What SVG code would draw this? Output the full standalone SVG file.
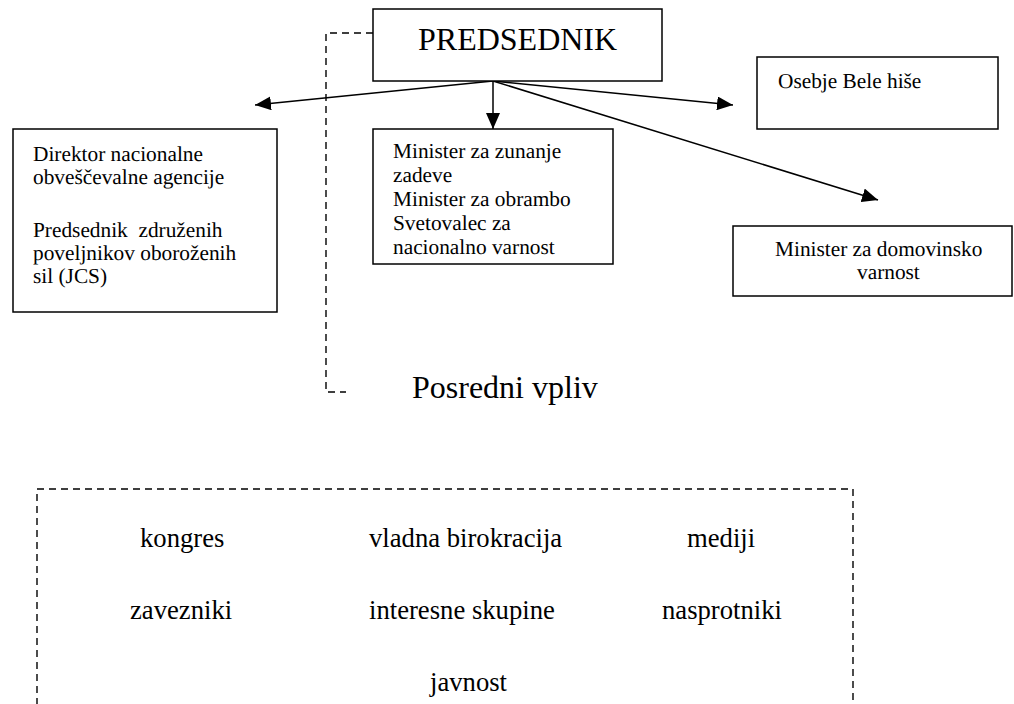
<svg xmlns="http://www.w3.org/2000/svg" width="1014" height="704" viewBox="0 0 1014 704">
<style>
  text { font-family: "Liberation Serif", "Times New Roman", serif; fill: #000; }
  .t21 { font-size: 21.33px; text-rendering: geometricPrecision; }
  .t26 { font-size: 26.67px; }
  .t32 { font-size: 32px; }
  .box { fill: #fff; stroke: #000; stroke-width: 1.5; }
  .arrow { fill: none; stroke: #000; stroke-width: 1.5; marker-end: url(#ah); }
  .dash { fill: none; stroke: #000; stroke-width: 1.4; stroke-dasharray: 7 5; }
</style>
<defs>
  <marker id="ah" markerUnits="userSpaceOnUse" markerWidth="16" markerHeight="14" refX="16" refY="7" orient="auto">
    <path d="M0,0 L16,7 L0,14 z" fill="#000"/>
  </marker>
</defs>
<rect width="1014" height="704" fill="#fff"/>
<g id="connectors">
  <polyline class="dash" points="373,33 326,33 326,392 346,392"/>
  <line class="arrow" x1="493" y1="81" x2="255" y2="105"/>
  <line class="arrow" x1="493" y1="81" x2="493" y2="129"/>
  <line class="arrow" x1="493" y1="81" x2="733" y2="105"/>
  <line class="arrow" x1="493" y1="81" x2="878" y2="200"/>
</g>
<g id="predsednik">
  <rect class="box" x="373" y="9" width="289" height="72"/>
  <text class="t32" x="418" y="50">PREDSEDNIK</text>
</g>
<g id="direktor">
  <rect class="box" x="13" y="129" width="264" height="183"/>
  <text class="t21" x="33" y="161">Direktor nacionalne</text>
  <text class="t21" x="33" y="184">obveščevalne agencije</text>
  <text class="t21" x="33" y="237" xml:space="preserve">Predsednik  združenih</text>
  <text class="t21" x="33" y="260">poveljnikov oboroženih</text>
  <text class="t21" x="33" y="283">sil (JCS)</text>
</g>
<g id="ministri">
  <rect class="box" x="373" y="129" width="240" height="135"/>
  <text class="t21" x="393" y="158">Minister za zunanje</text>
  <text class="t21" x="393" y="182">zadeve</text>
  <text class="t21" x="393" y="206">Minister za obrambo</text>
  <text class="t21" x="393" y="230">Svetovalec za</text>
  <text class="t21" x="393" y="254">nacionalno varnost</text>
</g>
<g id="osebje">
  <rect class="box" x="757" y="57" width="241" height="72"/>
  <text class="t21" x="778" y="88">Osebje Bele hiše</text>
</g>
<g id="domovinsko">
  <rect class="box" x="733" y="226" width="279" height="70"/>
  <text class="t21" x="775" y="256">Minister za domovinsko</text>
  <text class="t21" x="857" y="279">varnost</text>
</g>
<g id="posredni">
  <text class="t32" x="412" y="398">Posredni vpliv</text>
</g>
<g id="vplivi">
  <rect class="dash" x="37" y="489" width="816" height="240"/>
  <text class="t26" x="140" y="547">kongres</text>
  <text class="t26" x="369" y="547">vladna birokracija</text>
  <text class="t26" x="687" y="547">mediji</text>
  <text class="t26" x="130" y="619">zavezniki</text>
  <text class="t26" x="369" y="619">interesne skupine</text>
  <text class="t26" x="662" y="619">nasprotniki</text>
  <text class="t26" x="430" y="691">javnost</text>
</g>
</svg>
